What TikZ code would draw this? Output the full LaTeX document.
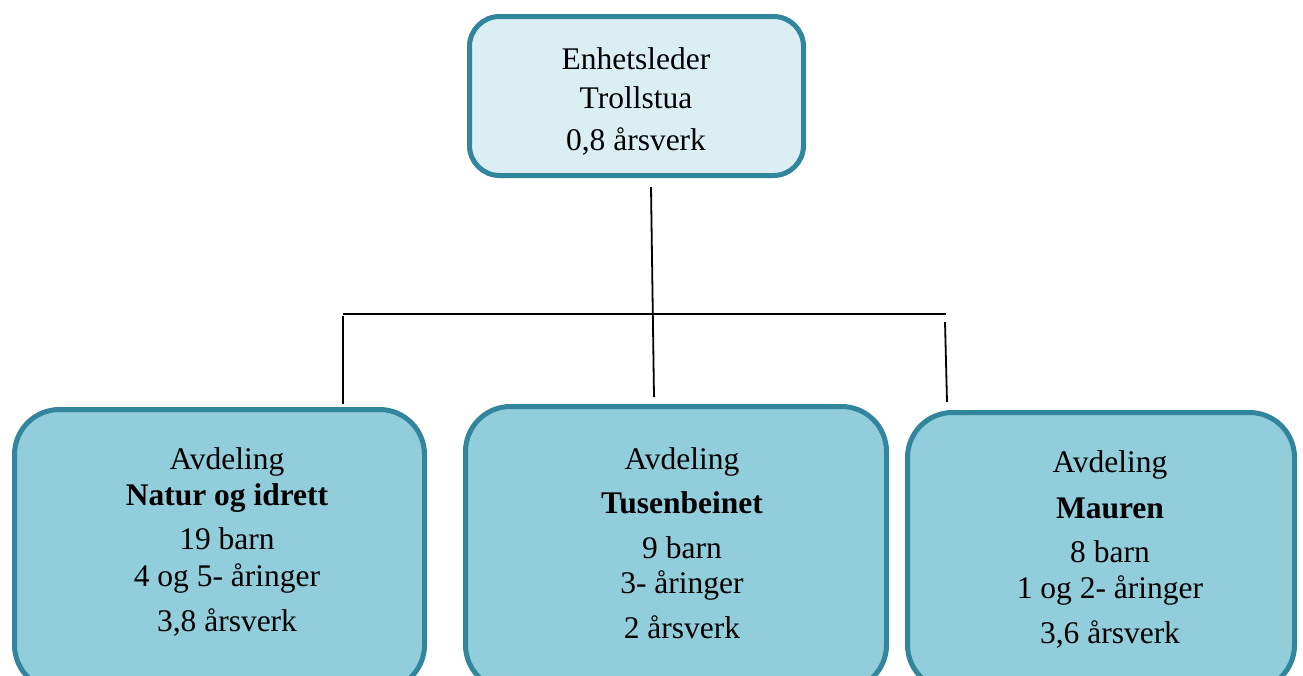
\documentclass[tikz,border=0pt]{standalone}
\usepackage{fontspec}
\setmainfont{Liberation Serif}
\definecolor{edgeblue}{HTML}{31859C}
\definecolor{topfill}{HTML}{DBEEF4}
\definecolor{lowfill}{HTML}{92CDDC}
\begin{document}
\begin{tikzpicture}[x=1pt,y=-1pt,
  topbox/.style={draw=edgeblue,fill=topfill,line width=5pt,rounded corners=30pt,inner sep=0pt},
  lowbox/.style={draw=edgeblue,fill=lowfill,line width=5pt,rounded corners=45pt,inner sep=0pt},
  txt/.style={anchor=base,inner sep=0pt,font=\fontsize{31.5}{36}\selectfont},
  btxt/.style={txt,font=\fontsize{31.5}{36}\selectfont\bfseries},
  conn/.style={draw=black,line width=1.8pt}]
\useasboundingbox (0,0) rectangle (1303,675);
\clip (0,0) rectangle (1303,675);
% boxes
\node[topbox,minimum width=334pt,minimum height=159pt] (top) at (636.5,96) {};
\node[lowbox,minimum width=410pt,minimum height=280.5pt] (b1) at (219.5,549.75) {};
\node[lowbox,minimum width=421pt,minimum height=283.5pt] (b2) at (676,548.25) {};
\node[lowbox,minimum width=387pt,minimum height=277.5pt] (b3) at (1101,551.25) {};
% top text
\node[txt] (t0a) at (636,69) {Enhetsleder};
\node[txt] (t0b) at (636,108) {Trollstua};
\node[txt] (t0c) at (636,150) {0,8 årsverk};
% left text
\node[txt] (t1a) at (227,469) {Avdeling};
\node[btxt] (t1b) at (227,505) {Natur og idrett};
\node[txt] (t1c) at (227,549) {19 barn};
\node[txt] (t1d) at (227,586) {4 og 5- åringer};
\node[txt] (t1e) at (227,631) {3,8 årsverk};
% middle text
\node[txt] (t2a) at (682,469) {Avdeling};
\node[btxt] (t2b) at (682,513) {Tusenbeinet};
\node[txt] (t2c) at (682,558) {9 barn};
\node[txt] (t2d) at (682,593) {3- åringer};
\node[txt] (t2e) at (682,638) {2 årsverk};
% right text
\node[txt] (t3a) at (1110,472) {Avdeling};
\node[btxt] (t3b) at (1110,518) {Mauren};
\node[txt] (t3c) at (1110,562) {8 barn};
\node[txt] (t3d) at (1110,598) {1 og 2- åringer};
\node[txt] (t3e) at (1110,643) {3,6 årsverk};
% connectors
\coordinate (c0) at (651,187);
\coordinate (c1) at (654,397);
\coordinate (h0) at (343,314);
\coordinate (h1) at (946,314);
\coordinate (l0) at (343,316);
\coordinate (l1) at (343,404);
\coordinate (r0) at (945,322);
\coordinate (r1) at (947,402);
\draw[conn] (c0) -- (c1);
\draw[conn] (h0) -- (h1);
\draw[conn] (l0) -- (l1);
\draw[conn] (r0) -- (r1);
\end{tikzpicture}
\end{document}
